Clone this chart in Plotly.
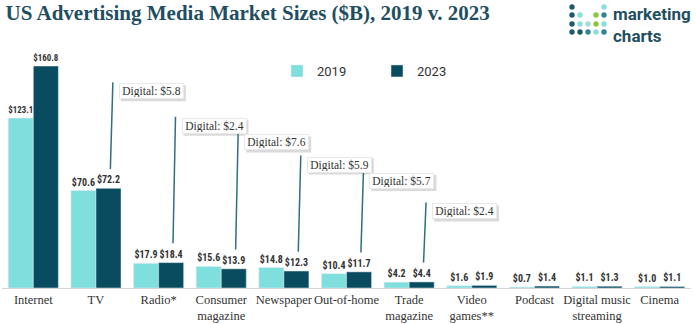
import plotly.graph_objects as go

categories = ["Internet", "TV", "Radio*", "Consumer<br>magazine", "Newspaper", "Out-of-home",
              "Trade<br>magazine", "Video<br>games**", "Podcast", "Digital music<br>streaming", "Cinema"]
v2019 = [123.1, 70.6, 17.9, 15.6, 14.8, 10.4, 4.2, 1.6, 0.7, 1.1, 1.0]
v2023 = [160.8, 72.2, 18.4, 13.9, 12.3, 11.7, 4.4, 1.9, 1.4, 1.3, 1.1]
digital_idx = [1, 2, 3, 4, 5, 6]
digital_vals = [5.8, 2.4, 7.6, 5.9, 5.7, 2.4]
callout_tops = [149, 124, 112, 96, 84, 62]

C19 = "#7fdfdc"
C23 = "#0a4c5f"
DARK = "#1f4f5f"
LBL_FONT = dict(family="Roboto Condensed, Liberation Sans Narrow, Roboto", size=10, color="#333333")

L, R, T, B = 2, 5, 60, 36
W, H = 696, 324
PW, PH = W - L - R, H - T - B


def px2paper(px, py):
    return (px - L) / PW, (H - B - py) / PH


fig = go.Figure()
fig.add_trace(go.Bar(x=list(range(len(categories))), y=v2019, name="2019", marker_color=C19,
                     texttemplate="<b>$%{y:.1f}</b>", textposition="outside", textfont=LBL_FONT,
                     cliponaxis=False))
fig.add_trace(go.Bar(x=list(range(len(categories))), y=v2023, name="2023", marker_color=C23,
                     texttemplate="<b>$%{y:.1f}</b>", textposition="outside", textfont=LBL_FONT,
                     cliponaxis=False))

shapes = []
annotations = []
for i, d, top in zip(digital_idx, digital_vals, callout_tops):
    v = v2023[i]
    xb = i + 0.2 + 0.03
    xt = i + 0.2 + 0.07
    shapes.append(dict(type="line", xref="x", yref="y", x0=xb, y0=v + 14, x1=xt, y1=top,
                       line=dict(color="#2f6f80", width=1.5)))
    # soft shadow behind the callout box
    shapes.append(dict(type="rect", xref="x", yref="y", xsizemode="pixel", ysizemode="pixel",
                       xanchor=xt, yanchor=top, x0=8, x1=73, y0=-3, y1=-19,
                       fillcolor="#dadada", line=dict(width=0), layer="above"))
    txt = f"Digital: ${d}"
    annotations.append(dict(xref="x", yref="y", x=xt, y=top, text=txt, showarrow=False,
                            xanchor="left", yanchor="top", xshift=6, yshift=-1,
                            width=61, height=12, align="center", valign="middle",
                            bgcolor="white", bordercolor="#e8e8e8", borderwidth=1,
                            font=dict(family="Liberation Serif", size=11.5, color="#333333"),
                            borderpad=1))

# logo dots
dot_cols = [572, 580, 588, 596, 604]
dot_rows = [7, 15, 24, 32]
dot_pattern = [
    ["#1e5a6a", None, None, None, "#8adede"],
    ["#1e5a6a", "#8adede", None, "#8cc63f", "#2f8595"],
    ["#1e5a6a", "#8adede", "#a9d8d8", "#8cc63f", "#8adede"],
    ["#1e5a6a", "#1e5a6a", "#2f8595", "#8adede", "#2f8595"],
]
for r, row in enumerate(dot_pattern):
    for c, col in enumerate(row):
        if col is None:
            continue
        cx, cy = px2paper(dot_cols[c], dot_rows[r])
        shapes.append(dict(type="circle", xref="paper", yref="paper", xsizemode="pixel", ysizemode="pixel",
                           xanchor=cx, yanchor=cy, x0=-2.7, x1=2.7, y0=-2.7, y1=2.7,
                           fillcolor=col, line=dict(width=0), layer="above"))

lx, ly = px2paper(611, 2)
annotations.append(dict(xref="paper", yref="paper", x=lx, y=ly, xanchor="left", yanchor="top",
                        text="<b>marketing<br>charts</b>", showarrow=False, align="left",
                        font=dict(family="Roboto", size=17, color=DARK)))

legx, legy = px2paper(277, 56)

fig.update_layout(
    width=W, height=H,
    margin=dict(l=L, r=R, t=T, b=B),
    paper_bgcolor="white", plot_bgcolor="white",
    barmode="group", bargap=0.2, bargroupgap=0,
    title=dict(text="<b>US Advertising Media Market Sizes ($B), 2019 v. 2023</b>",
               font=dict(family="Liberation Serif", size=21, color=DARK),
               x=0.008, xanchor="left", xref="container", y=0.985, yanchor="top", yref="container"),
    legend=dict(orientation="h", x=legx, xanchor="left", y=legy, yanchor="top",
                font=dict(family="Roboto", size=13, color="#333333"),
                entrywidth=55, entrywidthmode="pixels", bgcolor="rgba(0,0,0,0)"),
    xaxis=dict(tickmode="array", tickvals=list(range(len(categories))), ticktext=categories,
               range=[-0.5, len(categories) - 0.5], tickangle=0,
               showline=True, linecolor="#d5d5d5", linewidth=1, ticks="", showgrid=False,
               tickfont=dict(family="Liberation Serif", size=12.5, color="#333333")),
    yaxis=dict(range=[0, 165.2], visible=False, showgrid=False, zeroline=False),
    shapes=shapes,
    annotations=annotations,
    showlegend=True,
)

fig.write_html("out.html")
